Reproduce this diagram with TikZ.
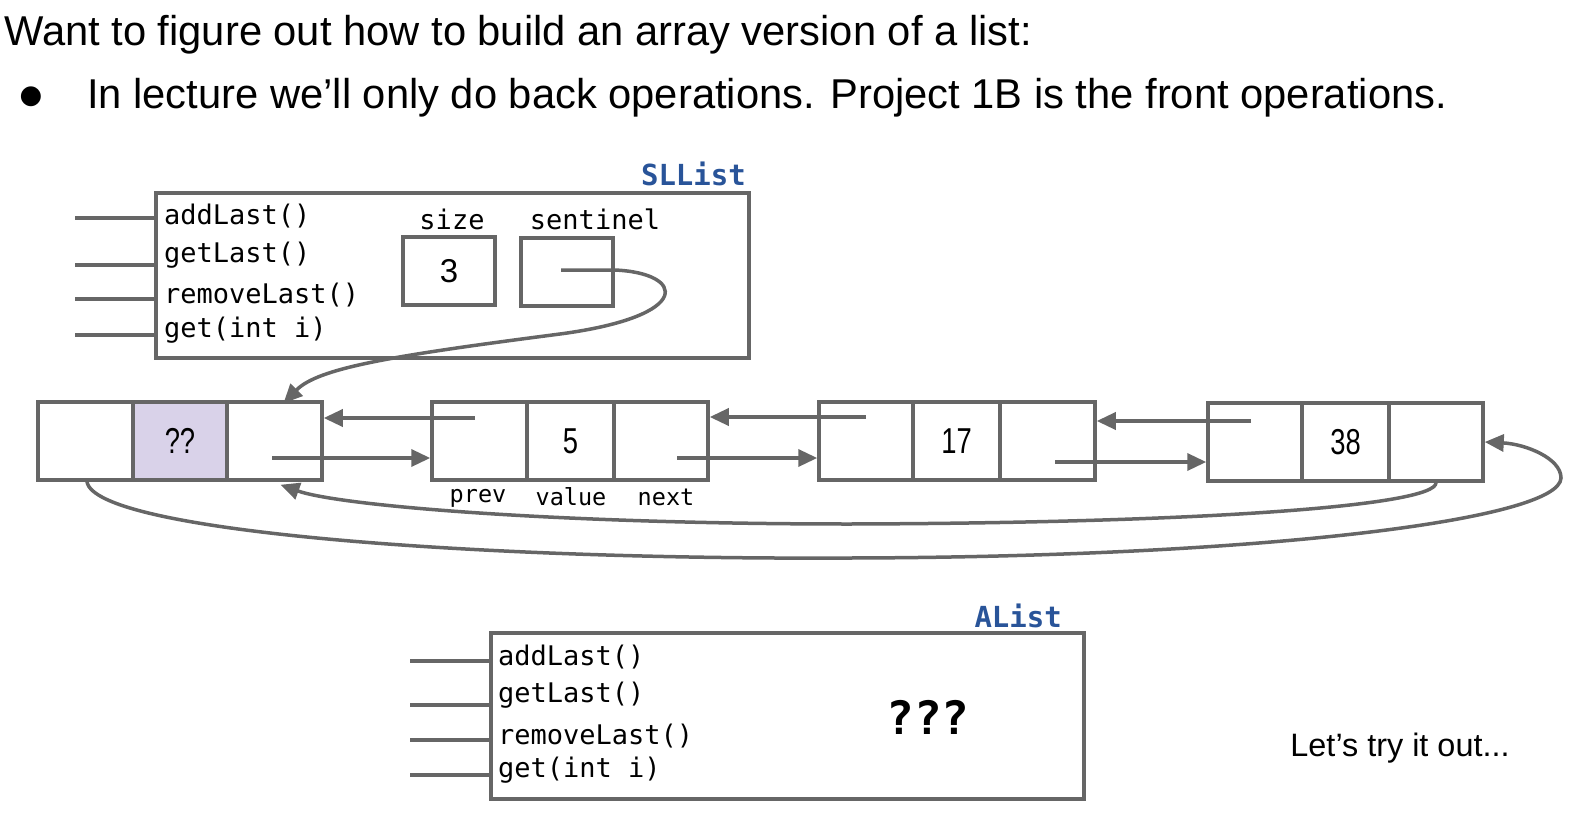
\documentclass[tikz,border=0pt]{standalone}
\usepackage{fontspec}
\usepackage{graphicx}
\setmainfont{Liberation Sans}
\newfontfamily\codefont{DejaVu Sans Mono}
\newfontfamily\symfont{DejaVu Sans}
\usetikzlibrary{arrows.meta,calc}
\definecolor{linegray}{HTML}{666666}
\definecolor{titleblue}{HTML}{295499}
\definecolor{lavender}{HTML}{D9D2E9}
\newcommand\cellnumfont{\fontsize{36}{36}\selectfont}
\newcommand\methodfont{\codefont\fontsize{27}{27}\selectfont}
\newcommand\narrow[1]{\scalebox{0.76}[1]{#1}}

\begin{document}
\begin{tikzpicture}[x=1pt,y=-1pt,
  cell/.style={draw=linegray, line width=3.5pt, minimum height=78pt, inner sep=0pt, font=\cellnumfont},
  classbox/.style={draw=linegray, line width=3.5pt, inner sep=0pt},
  fieldbox/.style={draw=linegray, line width=3.5pt, minimum width=92pt, minimum height=68pt, inner sep=0pt, font=\fontsize{33}{33}\selectfont},
  method/.style={anchor=west, inner sep=0pt, font=\methodfont},
  fieldname/.style={inner sep=0pt, font=\methodfont},
  classname/.style={anchor=base east, inner sep=0pt, text=titleblue, font=\codefont\bfseries\fontsize{29}{29}\selectfont},
  stub/.style={draw=linegray, line width=3.5pt},
  ptr/.style={draw=linegray, line width=3.5pt, -{Triangle[length=19pt,width=17pt]}},
]
\useasboundingbox (0,0) rectangle (1574,816);

% heading text
\node[anchor=base west, inner sep=0pt, font=\fontsize{41.7}{41.7}\selectfont] (title) at (4,46)
  {Want to figure out how to build an array version of a list:};
\node[inner sep=0pt, font=\symfont\fontsize{26}{26}\selectfont] (bullet) at (31,97) {●};
\node[anchor=base west, inner sep=0pt, font=\fontsize{41.7}{41.7}\selectfont] (point) at (87,108)
  {In lecture we’ll only do back operations. Project 1B is the front operations.};

% SLList object
\node[classbox, minimum width=593pt, minimum height=165pt] (slbox) at (452.5,275.5) {};
\node[classname] (sltitle) at (746,185) {SLList};
\foreach \y/\name/\txt in {216/m1/addLast(), 255/m2/getLast(), 295/m3/removeLast(), 330/m4/get(int i)} {
  \node[method] (sl\name) at (164,\y) {\txt};
}
\foreach \y/\name in {218/a, 265/b, 299/c, 335/d} {
  \coordinate (slstub\name) at (75,\y);
  \draw[stub] (slstub\name) -- (slstub\name -| slbox.west);
}
\node[fieldname] (sizelbl) at (452,219) {size};
\node[fieldname] (sentlbl) at (595,219) {sentinel};
\node[fieldbox, line width=4.5pt] (size) at (449,271) {3};
\node[fieldbox] (sent) at (567,272) {};

% linked nodes: prev | value | next
\node[cell, minimum width=95pt] (n0a) at (85.5,441) {};
\node[cell, minimum width=94pt, fill=lavender] (n0b) at (180,441) {\narrow{??}};
\node[cell, minimum width=95pt] (n0c) at (274.5,441) {};

\node[cell, minimum width=95pt] (n1a) at (479.5,441) {};
\node[cell, minimum width=87pt] (n1b) at (570.5,441) {\narrow{5}};
\node[cell, minimum width=94pt] (n1c) at (661,441) {};

\node[cell, minimum width=94pt] (n2a) at (866,441) {};
\node[cell, minimum width=87pt] (n2b) at (956.5,441) {\narrow{17}};
\node[cell, minimum width=95pt] (n2c) at (1047.5,441) {};

\node[cell, minimum width=94pt] (n3a) at (1255,442) {};
\node[cell, minimum width=87pt] (n3b) at (1345.5,442) {\narrow{38}};
\node[cell, minimum width=94pt] (n3c) at (1436,442) {};

\node[fieldname, font=\codefont\fontsize{23.5}{23.5}\selectfont] (prevlbl) at (478,498) {prev};
\node[fieldname, font=\codefont\fontsize{23.5}{23.5}\selectfont] (valuelbl) at (571,497) {value};
\node[fieldname, font=\codefont\fontsize{23.5}{23.5}\selectfont] (nextlbl) at (666,497) {next};

% next pointers
\draw[ptr] ([xshift=-2.5pt,yshift=-17pt]n0c.center) -- ([yshift=-17pt]n1a.west);
\draw[ptr] ([xshift=16pt,yshift=-17pt]n1c.center) -- ([yshift=-17pt]n2a.west);
\draw[ptr] ([xshift=7.5pt,yshift=-21pt]n2c.center) -- ([yshift=-20pt]n3a.west);
% prev pointers
\draw[ptr] ([xshift=-4.5pt,yshift=23pt]n1a.center) -- ([yshift=23pt]n0c.east);
\draw[ptr] ([yshift=24pt]n2a.center) -- ([yshift=24pt]n1c.east);
\draw[ptr] ([xshift=-4pt,yshift=21pt]n3a.center) -- ([yshift=20pt]n2c.east);

% sentinel reference
\draw[ptr] ([xshift=-6pt,yshift=2pt]sent.center) -- ([yshift=2pt]sent.east)
  .. controls (685,273) and (695,316) .. (560,334)
  .. controls (390,356) and (318,368) .. ([xshift=9pt,yshift=-3pt]n0c.north);

% last node's next back to the sentinel
\draw[ptr] (n3c.south)
  .. controls (1436,506) and (1200,523) .. (850,524)
  .. controls (560,524) and (340,506) .. ([xshift=6pt,yshift=-3pt]n0c.south);

% sentinel's prev round to the last node
\draw[ptr] ([xshift=1.5pt]n0a.south)
  .. controls (95,532) and (480,560) .. (850,558)
  .. controls (1260,557) and (1560,520) .. (1561,478)
  .. controls (1561,458) and (1525,444) .. (n3c.east);

% AList object
\node[classbox, minimum width=593pt, minimum height=166pt] (albox) at (787.5,716) {};
\node[classname] (altitle) at (1062,627) {AList};
\foreach \y/\name/\txt in {657/m1/addLast(), 695/m2/getLast(), 736/m3/removeLast(), 770/m4/get(int i)} {
  \node[method] (al\name) at (498,\y) {\txt};
}
\foreach \y/\name in {661/a, 705/b, 740/c, 775/d} {
  \coordinate (alstub\name) at (410,\y);
  \draw[stub] (alstub\name) -- (alstub\name -| albox.west);
}
\node[inner sep=0pt, font=\codefont\bfseries\fontsize{46}{46}\selectfont] (unknown) at (928,717) {???};

\node[inner sep=0pt, font=\fontsize{32.4}{32.4}\selectfont] (tryit) at (1400,748) {Let’s try it out...};
\end{tikzpicture}
\end{document}
